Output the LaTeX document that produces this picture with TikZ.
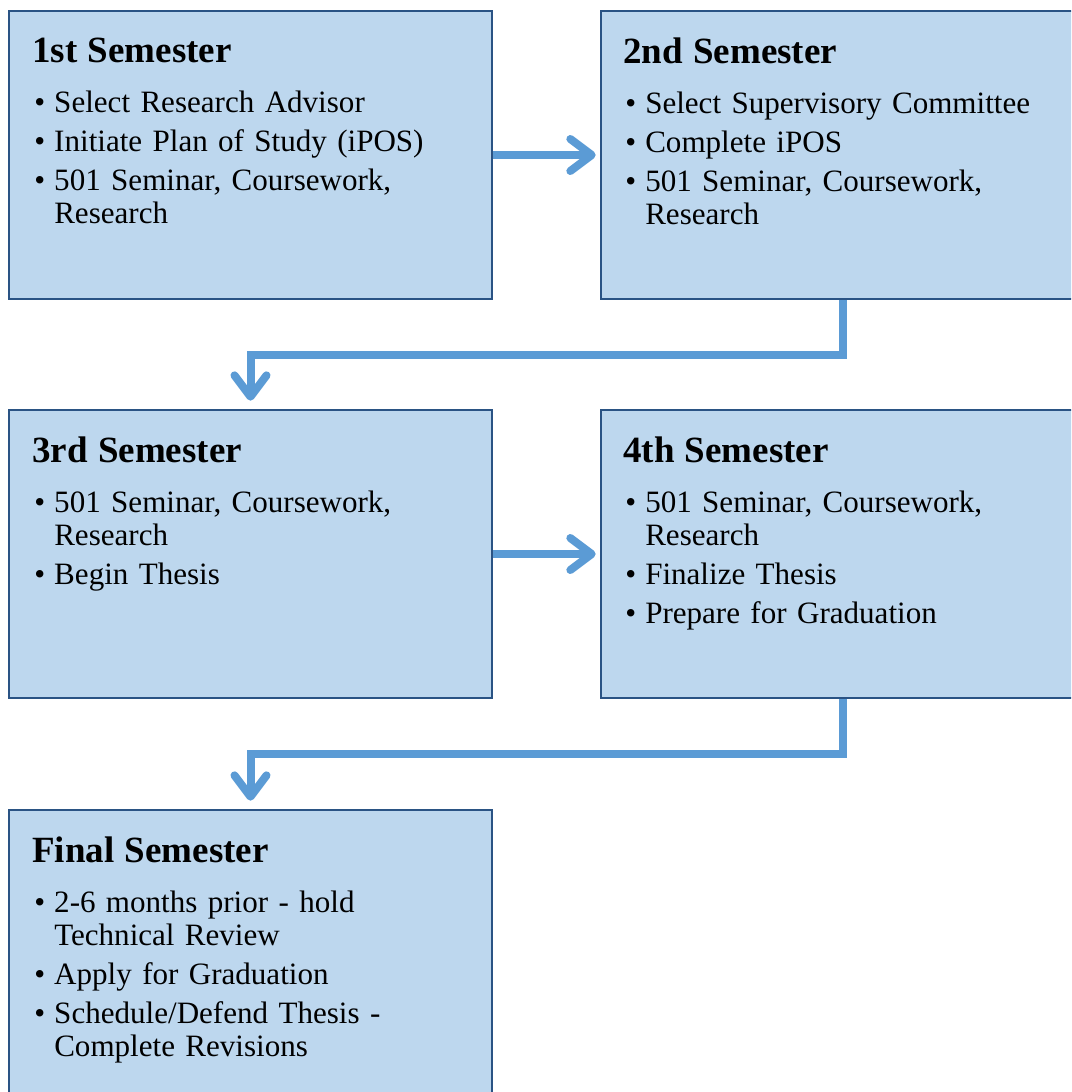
\documentclass[tikz,border=0pt]{standalone}
\usepackage{fontspec}
\setmainfont{Liberation Serif}
\usetikzlibrary{arrows.meta,backgrounds}
\definecolor{caixa}{HTML}{BDD7EE}
\definecolor{borda}{HTML}{2A5384}
\definecolor{seta}{HTML}{5B9BD5}
\newcommand{\tit}[1]{{\fontsize{27.75}{30}\selectfont\bfseries #1}\\[12.75pt]}
\newcommand{\bul}{\makebox[16.5pt][l]{\hspace{1.5pt}\textbullet}}
\newcommand{\cont}{\\\hspace*{16.5pt}}
\newcommand{\prox}{\\[4.5pt]}
\begin{document}
\begin{tikzpicture}[x=0.75pt,y=0.75pt,
    semestre/.style={draw=borda,fill=caixa,line width=2.1pt,minimum width=362.25pt,
      minimum height=216pt,anchor=north west,inner sep=0pt,outer sep=0pt},
    texto/.style={anchor=north west,inner sep=0pt,text width=345pt,align=left,
      font=\fontsize{23.3}{24.75}\selectfont},
    fluxo/.style={draw=seta,line width=6pt,-{Straight Barb[round,length=16pt,width=24pt]}}]
    \useasboundingbox (0,0) rectangle (1071,-1092);
    \clip (0,0) rectangle (1071,-1092);
    % Caixas dos semestres
    \node[semestre] (sem1) at (9,-11) {};
    \node[semestre] (sem2) at (601,-11) {};
    \node[semestre] (sem3) at (9,-410) {};
    \node[semestre] (sem4) at (601,-410) {};
    \node[semestre] (sem5) at (9,-810) {};
    % Textos
    \node[texto] (txt1) at ([xshift=17.25pt,yshift=-20.25pt]sem1.north west)
      {\tit{1st Semester}\bul Select Research Advisor\prox\bul Initiate Plan of Study (iPOS)\prox
       \bul 501 Seminar, Coursework,\cont Research};
    \node[texto] (txt2) at ([xshift=16.5pt,yshift=-20.25pt]sem2.north west)
      {\tit{2nd Semester}\bul Select Supervisory Committee\prox\bul Complete iPOS\prox
       \bul 501 Seminar, Coursework,\cont Research};
    \node[texto] (txt3) at ([xshift=17.25pt,yshift=-20.25pt]sem3.north west)
      {\tit{3rd Semester}\bul 501 Seminar, Coursework,\cont Research\prox\bul Begin Thesis};
    \node[texto] (txt4) at ([xshift=16.5pt,yshift=-20.25pt]sem4.north west)
      {\tit{4th Semester}\bul 501 Seminar, Coursework,\cont Research\prox\bul Finalize Thesis\prox
       \bul Prepare for Graduation};
    \node[texto] (txt5) at ([xshift=17.25pt,yshift=-20.25pt]sem5.north west)
      {\tit{Final Semester}\bul 2-6 months prior - hold\cont Technical Review\prox
       \bul Apply for Graduation\prox\bul Schedule/Defend Thesis -\cont Complete Revisions};
    % Setas entre semestres
    \begin{scope}[on background layer]
      \draw[fluxo, shorten >=4pt] (sem1.east) -- (sem2.west);
      \draw[fluxo, shorten >=4pt] (sem3.east) -- (sem4.west);
      \draw[fluxo, shorten >=7pt] (sem2.south) -- ++(0,-56) -| (sem3.north);
      \draw[fluxo, shorten >=7pt] (sem4.south) -- ++(0,-56) -| (sem5.north);
    \end{scope}
\end{tikzpicture}
\end{document}
